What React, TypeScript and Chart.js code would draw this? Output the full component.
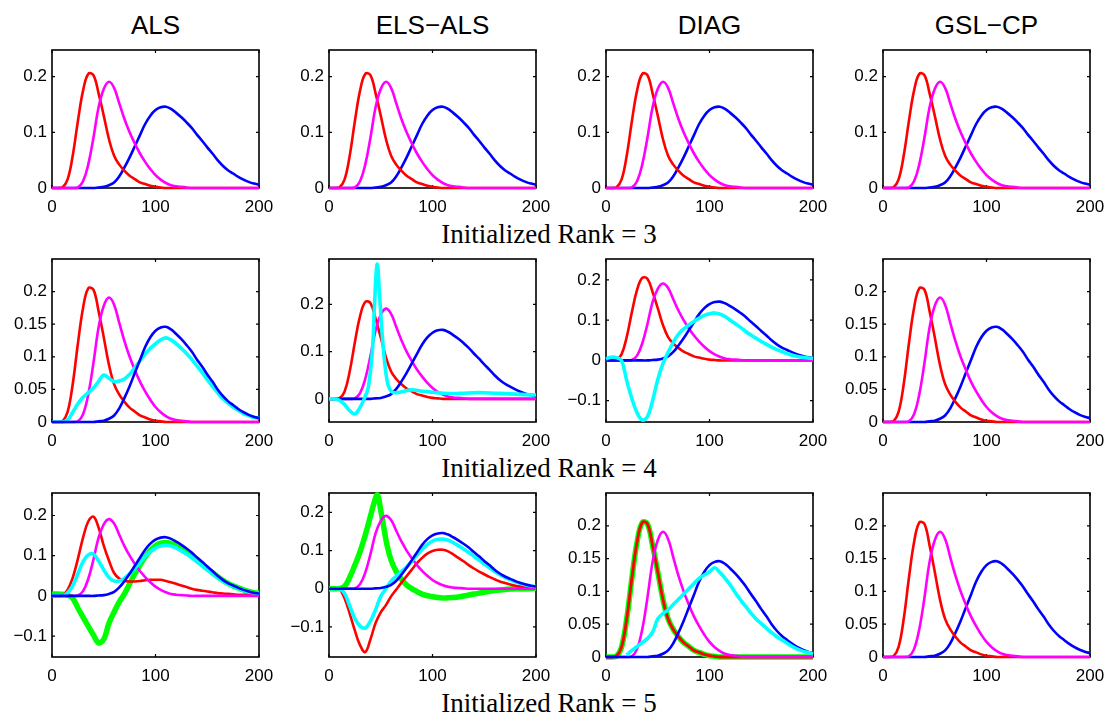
import React, { useEffect, useRef } from "react";
import { Chart, registerables } from "chart.js";

Chart.register(...registerables);

// ---------- data ----------
const X5 = [0, 5, 10, 15, 20, 25, 30, 35, 40, 45, 50, 55, 60, 65, 70, 75, 80, 85, 90, 95, 100, 105, 110, 115, 120, 125, 130, 135, 140, 145, 150, 155, 160, 165, 170, 175, 180, 185, 190, 195, 200];
const X_TICKS = [0, 100, 200];
const YT_A = [0, 0.1, 0.2];
const YT_B = [0, 0.05, 0.1, 0.15, 0.2];
const YT_C = [-0.1, 0, 0.1, 0.2];

const COLUMN_TITLES = ["ALS", "ELS\u2212ALS", "DIAG", "GSL\u2212CP"];
const ROW_LABELS = ["Initialized Rank = 3", "Initialized Rank = 4", "Initialized Rank = 5"];

// true components
const RED = [0, 0, 0.001, 0.015, 0.058, 0.12, 0.175, 0.205, 0.203, 0.17, 0.13, 0.088, 0.058, 0.042, 0.031, 0.022, 0.016, 0.01, 0.007, 0.004, 0.002, 0.001, 0, 0, 0, 0, 0, 0, 0, 0, 0, 0, 0, 0, 0, 0, 0, 0, 0, 0, 0];
const MAGENTA = [0, 0, 0, 0, 0, 0.001, 0.012, 0.042, 0.09, 0.145, 0.178, 0.191, 0.18, 0.152, 0.124, 0.1, 0.08, 0.062, 0.047, 0.034, 0.023, 0.015, 0.009, 0.005, 0.003, 0.002, 0.001, 0, 0, 0, 0, 0, 0, 0, 0, 0, 0, 0, 0, 0, 0];
const BLUE = [0, 0, 0, 0, 0, 0, 0, 0, 0, 0.001, 0.002, 0.005, 0.01, 0.021, 0.037, 0.055, 0.075, 0.095, 0.115, 0.13, 0.14, 0.145, 0.146, 0.142, 0.135, 0.127, 0.118, 0.108, 0.096, 0.085, 0.073, 0.062, 0.05, 0.04, 0.032, 0.026, 0.02, 0.015, 0.011, 0.008, 0.006];

// rank 4 extra components
const CYAN_R4_ALS = [0, 0, 0, 0.003, 0.015, 0.028, 0.038, 0.045, 0.052, 0.062, 0.072, 0.067, 0.062, 0.063, 0.066, 0.073, 0.083, 0.094, 0.104, 0.113, 0.12, 0.126, 0.129, 0.126, 0.12, 0.113, 0.105, 0.096, 0.086, 0.076, 0.065, 0.055, 0.045, 0.036, 0.029, 0.023, 0.018, 0.013, 0.01, 0.007, 0.006];
const X_CYAN_R4_ELS = [0, 5, 10, 15, 20, 25, 30, 34, 38, 42, 44, 46.5, 49, 52, 56, 60, 65, 70, 80, 90, 100, 110, 120, 130, 140, 150, 160, 170, 180, 190, 200];
const CYAN_R4_ELS = [0, 0, -0.003, -0.012, -0.025, -0.032, -0.018, 0, 0.025, 0.105, 0.2, 0.285, 0.215, 0.12, 0.04, 0.016, 0.013, 0.015, 0.019, 0.016, 0.014, 0.012, 0.011, 0.012, 0.013, 0.013, 0.012, 0.011, 0.01, 0.009, 0.008];
const CYAN_R4_DIAG = [0.004, 0.008, 0.007, 0, -0.05, -0.095, -0.13, -0.148, -0.14, -0.1, -0.048, -0.008, 0.02, 0.045, 0.065, 0.078, 0.088, 0.097, 0.105, 0.112, 0.116, 0.118, 0.115, 0.109, 0.1, 0.091, 0.082, 0.072, 0.063, 0.055, 0.047, 0.04, 0.033, 0.027, 0.022, 0.017, 0.013, 0.01, 0.008, 0.006, 0.005];

// rank 5 components
const RED_R5_ALS = [0, 0, 0, 0.015, 0.045, 0.092, 0.145, 0.185, 0.197, 0.17, 0.125, 0.088, 0.057, 0.043, 0.037, 0.036, 0.036, 0.037, 0.039, 0.04, 0.04, 0.04, 0.037, 0.034, 0.03, 0.026, 0.022, 0.018, 0.015, 0.013, 0.011, 0.009, 0.007, 0.006, 0.005, 0.004, 0.003, 0.003, 0.002, 0.002, 0.002];
const CYAN_R5_ALS = [0, 0, 0, 0.008, 0.025, 0.055, 0.085, 0.102, 0.104, 0.087, 0.065, 0.046, 0.037, 0.037, 0.044, 0.055, 0.068, 0.083, 0.098, 0.11, 0.119, 0.124, 0.126, 0.124, 0.119, 0.112, 0.104, 0.095, 0.085, 0.075, 0.065, 0.055, 0.045, 0.037, 0.03, 0.024, 0.019, 0.014, 0.01, 0.008, 0.006];
const GREEN_R5_ALS = [0.004, 0.005, 0.004, 0.002, -0.006, -0.03, -0.053, -0.075, -0.097, -0.117, -0.108, -0.068, -0.04, -0.015, 0.005, 0.03, 0.055, 0.077, 0.097, 0.113, 0.125, 0.131, 0.133, 0.13, 0.124, 0.116, 0.108, 0.099, 0.089, 0.079, 0.068, 0.058, 0.048, 0.039, 0.031, 0.025, 0.02, 0.015, 0.011, 0.008, 0.007];
const RED_R5_ELS = [0, 0, 0, -0.025, -0.065, -0.11, -0.148, -0.166, -0.133, -0.09, -0.062, -0.043, -0.02, -0.002, 0.016, 0.033, 0.05, 0.067, 0.081, 0.092, 0.099, 0.102, 0.102, 0.098, 0.09, 0.081, 0.072, 0.062, 0.053, 0.045, 0.038, 0.031, 0.025, 0.019, 0.015, 0.011, 0.008, 0.006, 0.005, 0.004, 0.003];
const CYAN_R5_ELS = [0, 0, 0, -0.012, -0.045, -0.078, -0.098, -0.103, -0.085, -0.055, -0.02, 0, 0.02, 0.033, 0.045, 0.057, 0.072, 0.088, 0.103, 0.116, 0.125, 0.129, 0.13, 0.127, 0.121, 0.113, 0.104, 0.095, 0.085, 0.075, 0.065, 0.055, 0.045, 0.037, 0.03, 0.024, 0.018, 0.014, 0.01, 0.007, 0.006];
const X_GREEN_R5_ELS = [0, 5, 10, 15, 20, 25, 30, 35, 40, 43, 46.8, 50, 53, 56, 60, 65, 70, 75, 80, 90, 100, 110, 120, 130, 140, 150, 160, 170, 180, 190, 200];
const GREEN_R5_ELS = [0, 0, 0.001, 0.006, 0.03, 0.062, 0.097, 0.14, 0.19, 0.22, 0.246, 0.205, 0.16, 0.115, 0.075, 0.045, 0.025, 0.01, 0, -0.014, -0.021, -0.024, -0.023, -0.019, -0.014, -0.009, -0.005, -0.002, 0, 0, 0.001];
const CYAN_R5_DIAG = [null, null, null, null, 0.003, 0.01, 0.016, 0.022, 0.028, 0.038, 0.058, 0.066, 0.072, 0.08, 0.088, 0.096, 0.104, 0.112, 0.12, 0.125, 0.13, 0.136, 0.129, 0.12, 0.11, 0.098, 0.087, 0.077, 0.067, 0.058, 0.051, 0.044, 0.037, 0.031, 0.026, 0.021, 0.016, 0.012, 0.009, 0.007, 0.005];
const GREEN_R5_DIAG = RED;

// ---------- styling / layout ----------
const C_RED = "#ff0000";
const C_MAG = "#ff00ff";
const C_BLUE = "#0000ff";
const C_CYAN = "#00ffff";
const C_GREEN = "#00ff00";
const W_BASE = 2.6;
const W_CYAN = 3.6;
const W_GREEN = 5.5;

const COL_LEFT = [52, 329, 606, 883];
const PLOT_W = 207;
const ROW_TOP = [50, 259, 493];
const ROW_H = [138, 163, 164];

const PAD_L = 52;
const PAD_T = 14;
const PAD_R = 16;
const PAD_B = 36;

type Curve = { x?: number[]; y: (number | null)[]; color: string; width: number };
type PanelCfg = { row: number; col: number; yMin: number; yMax: number; yTicks: number[]; curves: Curve[] };

const c = (y: (number | null)[], color: string, width: number, x?: number[]): Curve => ({ y, color, width, x });
const base3 = (): Curve[] => [c(BLUE, C_BLUE, W_BASE), c(RED, C_RED, W_BASE), c(MAGENTA, C_MAG, W_BASE)];

const PANELS: PanelCfg[] = [
  { row: 0, col: 0, yMin: 0, yMax: 0.248, yTicks: YT_A, curves: base3() },
  { row: 0, col: 1, yMin: 0, yMax: 0.248, yTicks: YT_A, curves: base3() },
  { row: 0, col: 2, yMin: 0, yMax: 0.248, yTicks: YT_A, curves: base3() },
  { row: 0, col: 3, yMin: 0, yMax: 0.248, yTicks: YT_A, curves: base3() },
  {
    row: 1, col: 0, yMin: 0, yMax: 0.25, yTicks: YT_B,
    curves: [c(RED, C_RED, W_BASE), c(MAGENTA, C_MAG, W_BASE), c(CYAN_R4_ALS, C_CYAN, W_CYAN), c(BLUE, C_BLUE, W_BASE)],
  },
  {
    row: 1, col: 1, yMin: -0.049, yMax: 0.296, yTicks: YT_A,
    curves: [c(RED, C_RED, W_BASE), c(MAGENTA, C_MAG, W_BASE), c(BLUE, C_BLUE, W_BASE), c(CYAN_R4_ELS, C_CYAN, W_CYAN, X_CYAN_R4_ELS)],
  },
  {
    row: 1, col: 2, yMin: -0.153, yMax: 0.252, yTicks: YT_C,
    curves: [c(RED, C_RED, W_BASE), c(MAGENTA, C_MAG, W_BASE), c(BLUE, C_BLUE, W_BASE), c(CYAN_R4_DIAG, C_CYAN, W_CYAN)],
  },
  { row: 1, col: 3, yMin: 0, yMax: 0.25, yTicks: YT_B, curves: base3() },
  {
    row: 2, col: 0, yMin: -0.152, yMax: 0.256, yTicks: YT_C,
    curves: [c(GREEN_R5_ALS, C_GREEN, W_GREEN), c(RED_R5_ALS, C_RED, W_BASE), c(MAGENTA, C_MAG, W_BASE), c(CYAN_R5_ALS, C_CYAN, W_CYAN), c(BLUE, C_BLUE, W_BASE)],
  },
  {
    row: 2, col: 1, yMin: -0.179, yMax: 0.251, yTicks: YT_C,
    curves: [c(GREEN_R5_ELS, C_GREEN, W_GREEN, X_GREEN_R5_ELS), c(RED_R5_ELS, C_RED, W_BASE), c(MAGENTA, C_MAG, W_BASE), c(CYAN_R5_ELS, C_CYAN, W_CYAN), c(BLUE, C_BLUE, W_BASE)],
  },
  {
    row: 2, col: 2, yMin: 0, yMax: 0.25, yTicks: YT_B,
    curves: [c(GREEN_R5_DIAG, C_GREEN, W_GREEN), c(RED, C_RED, 2.8), c(MAGENTA, C_MAG, W_BASE), c(BLUE, C_BLUE, W_BASE), c(CYAN_R5_DIAG, C_CYAN, W_CYAN)],
  },
  { row: 2, col: 3, yMin: 0, yMax: 0.25, yTicks: YT_B, curves: base3() },
];

const fmt = (v: number | string) => {
  const n = Math.round(Number(v) * 1000) / 1000;
  return String(n).replace("-", "\u2212");
};

const boxPlugin = {
  id: "matlabBox",
  beforeDatasetsDraw(chart: any) {
    const { ctx, chartArea: a, scales } = chart;
    ctx.save();
    ctx.strokeStyle = "#000";
    ctx.lineWidth = 1.6;
    ctx.strokeRect(a.left, a.top, a.right - a.left, a.bottom - a.top);
    ctx.lineWidth = 1.2;
    const tl = 3;
    ctx.beginPath();
    scales.x.ticks.forEach((t: any) => {
      const px = scales.x.getPixelForValue(t.value);
      ctx.moveTo(px, a.bottom);
      ctx.lineTo(px, a.bottom - tl);
      ctx.moveTo(px, a.top);
      ctx.lineTo(px, a.top + tl);
    });
    scales.y.ticks.forEach((t: any) => {
      const py = scales.y.getPixelForValue(t.value);
      ctx.moveTo(a.left, py);
      ctx.lineTo(a.left + tl, py);
      ctx.moveTo(a.right, py);
      ctx.lineTo(a.right - tl, py);
    });
    ctx.stroke();
    ctx.restore();
  },
};

function Panel({ cfg }: { cfg: PanelCfg }) {
  const ref = useRef<HTMLCanvasElement>(null);
  const h = ROW_H[cfg.row];
  const W = PAD_L + PLOT_W + PAD_R;
  const H = PAD_T + h + PAD_B;
  useEffect(() => {
    const n = cfg.curves.length;
    const chart = new Chart(ref.current as HTMLCanvasElement, {
      type: "line",
      data: {
        datasets: cfg.curves.map((cv, i) => ({
          data: (cv.x ?? X5).map((x, j) => ({ x, y: cv.y[j] })),
          borderColor: cv.color,
          borderWidth: cv.width,
          pointRadius: 0,
          tension: 0.4,
          fill: false,
          spanGaps: false,
          clip: 4,
          order: n - i,
        })) as any,
      },
      options: {
        responsive: false,
        animation: false,
        devicePixelRatio: 1,
        events: [],
        layout: { padding: { left: 0, top: PAD_T, right: PAD_R, bottom: 0 } },
        plugins: { legend: { display: false }, tooltip: { enabled: false }, title: { display: false } },
        scales: {
          x: {
            type: "linear",
            min: 0,
            max: 200,
            grid: { display: false, drawTicks: false },
            border: { display: false },
            ticks: {
              autoSkip: false,
              maxRotation: 0,
              padding: 9,
              color: "#000",
              font: { family: "'Liberation Sans', Arial, sans-serif", size: 17 },
              callback: fmt,
            },
            afterBuildTicks: (s: any) => {
              s.ticks = X_TICKS.map((v) => ({ value: v }));
            },
            afterFit: (s: any) => {
              s.height = PAD_B;
              s.paddingLeft = 0;
              s.paddingRight = 0;
            },
          },
          y: {
            type: "linear",
            min: cfg.yMin,
            max: cfg.yMax,
            grid: { display: false, drawTicks: false },
            border: { display: false },
            ticks: {
              autoSkip: false,
              padding: 5,
              color: "#000",
              font: { family: "'Liberation Sans', Arial, sans-serif", size: 17 },
              callback: fmt,
            },
            afterBuildTicks: (s: any) => {
              s.ticks = cfg.yTicks.map((v) => ({ value: v }));
            },
            afterFit: (s: any) => {
              s.width = PAD_L;
              s.paddingTop = 0;
              s.paddingBottom = 0;
            },
          },
        } as any,
      },
      plugins: [boxPlugin],
    });
    return () => chart.destroy();
  }, []);
  return (
    <canvas
      ref={ref}
      width={W}
      height={H}
      style={{ position: "absolute", left: COL_LEFT[cfg.col] - PAD_L, top: ROW_TOP[cfg.row] - PAD_T, width: W, height: H }}
    />
  );
}

export default function App() {
  return (
    <div style={{ position: "absolute", left: 0, top: 0, width: 1105, height: 714, overflow: "hidden", background: "#fff" }}>
      {COLUMN_TITLES.map((t, i) => (
        <div
          key={t}
          style={{
            position: "absolute",
            left: COL_LEFT[i] + PLOT_W / 2 - 100,
            width: 200,
            top: 12,
            textAlign: "center",
            fontFamily: "'Liberation Sans', Arial, sans-serif",
            fontSize: 26,
            lineHeight: "26px",
            color: "#000",
            whiteSpace: "nowrap",
          }}
        >
          {t}
        </div>
      ))}
      {ROW_LABELS.map((t, i) => (
        <div
          key={t}
          style={{
            position: "absolute",
            left: 349,
            width: 400,
            top: ROW_TOP[i] + ROW_H[i] + 33,
            textAlign: "center",
            fontFamily: "'Liberation Serif', 'Times New Roman', serif",
            fontSize: 27,
            lineHeight: "27px",
            color: "#000",
            whiteSpace: "nowrap",
          }}
        >
          {t}
        </div>
      ))}
      {PANELS.map((p) => (
        <Panel key={`${p.row}-${p.col}`} cfg={p} />
      ))}
    </div>
  );
}
